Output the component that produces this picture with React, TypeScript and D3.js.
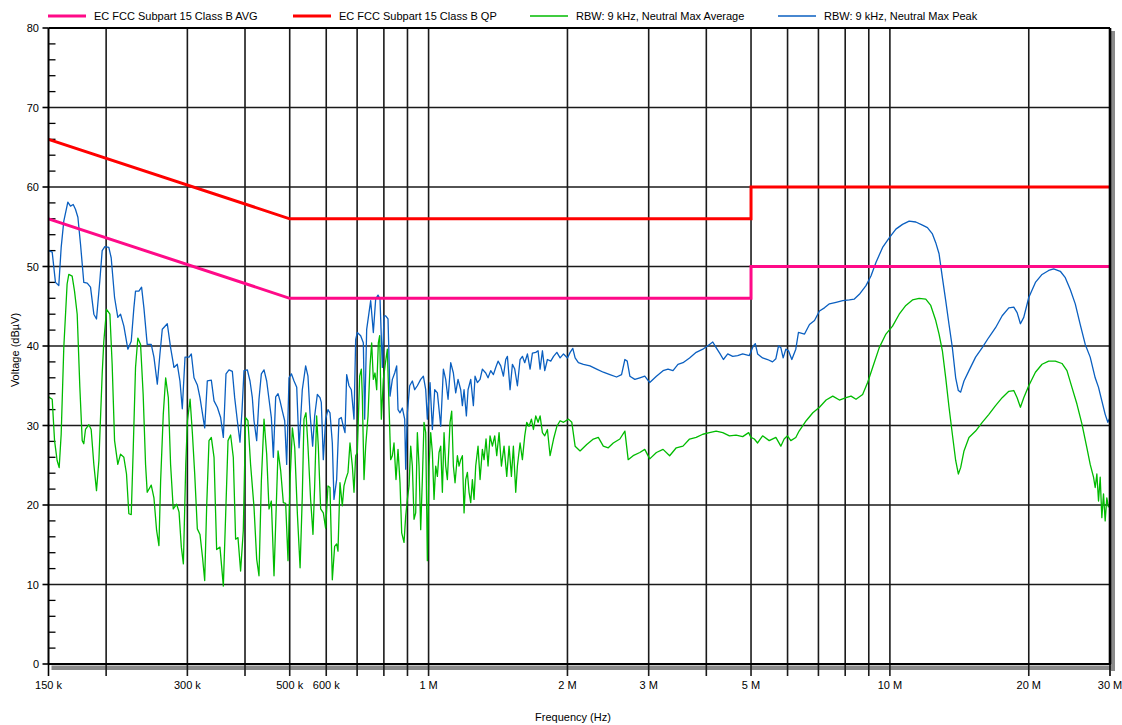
import React from 'react';
import * as d3 from 'd3';

// Limit lines (frequency in kHz, level in dBµV)
const limitFreq = [150, 500, 5000, 5000, 30000];
const qpLimitDb = [66, 56, 56, 60, 60];
const avgLimitDb = [56, 46, 46, 50, 50];

// RBW 9 kHz, Neutral Max Peak: [kHz, dBµV]
const peakTrace: [number, number][] = [
  [150, 52.0], [152.8, 51.8], [155.3, 48.0], [157.9, 47.6], [159.8, 52.4], [161.9, 55.7], [165.2, 58.1], [167.4, 57.6],
  [169.7, 57.8], [171.6, 57.2], [173.7, 56.2], [176.0, 52.8], [178.9, 48.0], [182.0, 47.9], [185.0, 47.4], [188.1, 44.0],
  [190.6, 43.4], [193.8, 48.2], [196.1, 52.0], [198.7, 52.5], [202.7, 52.4], [205.1, 51.1], [208.6, 46.1], [212.0, 43.6],
  [214.9, 44.0], [218.5, 42.5], [222.9, 39.6], [226.7, 40.6], [229.7, 44.8], [231.6, 46.9], [235.5, 46.9], [238.7, 47.4],
  [241.5, 44.8], [245.5, 40.2], [250.5, 40.2], [253.9, 38.6], [258.2, 35.2], [261.6, 39.0], [264.7, 42.1], [271.4, 42.8],
  [275.9, 39.8], [280.6, 37.3], [285.3, 37.7], [289.1, 35.6], [292.5, 32.1], [296.5, 38.6], [302.5, 38.6], [306.0, 39.0],
  [310.1, 36.0], [315.3, 35.1], [319.5, 33.5], [327.1, 29.7], [331.4, 35.6], [338.1, 35.7], [342.7, 33.1], [348.4, 32.3],
  [354.2, 31.0], [359.0, 28.5], [363.8, 36.5], [369.3, 37.0], [375.5, 36.8], [379.9, 33.5], [385.0, 30.6], [390.1, 27.9],
  [394.1, 31.9], [398.0, 36.9], [404.7, 37.0], [410.1, 35.6], [414.9, 33.5], [418.4, 30.6], [424.0, 28.1], [428.9, 33.3],
  [434.0, 36.5], [439.8, 37.0], [445.7, 35.6], [450.9, 33.3], [456.2, 31.0], [460.8, 26.0], [466.2, 33.6], [471.7, 34.0],
  [476.4, 33.1], [482.0, 31.8], [487.6, 30.6], [492.5, 25.1], [498.3, 36.0], [504.2, 36.5], [510.9, 35.6], [517.8, 34.8],
  [523.9, 27.2], [532.4, 34.5], [541.4, 37.5], [547.7, 36.2], [553.2, 31.6], [560.6, 27.4], [566.3, 31.2], [573.9, 33.9],
  [581.6, 33.5], [585.4, 32.9], [591.3, 25.7], [598.2, 30.8], [605.2, 32.0], [611.3, 31.6], [618.5, 27.8], [623.6, 20.7],
  [632.0, 23.2], [639.4, 30.8], [646.9, 31.0], [653.4, 29.9], [658.9, 29.1], [664.4, 36.4], [672.2, 35.0], [680.1, 34.5],
  [689.2, 30.8], [694.9, 40.8], [700.7, 41.7], [712.5, 41.3], [722.0, 40.4], [726.9, 30.8], [734.2, 42.1], [742.8, 44.2],
  [749.0, 45.7], [759.0, 41.7], [767.9, 45.9], [776.9, 46.4], [784.7, 45.9], [793.9, 37.3], [800.6, 43.8], [807.2, 43.8],
  [816.7, 43.4], [824.9, 33.7], [834.6, 35.8], [844.4, 36.6], [852.8, 37.5], [858.5, 32.0], [867.1, 31.6], [877.3, 32.2],
  [887.6, 30.8], [892.0, 24.5], [899.5, 31.6], [910.0, 35.0], [922.2, 35.6], [933.0, 34.5], [945.5, 35.0], [961.4, 35.8],
  [974.3, 36.2], [985.8, 34.5], [993.9, 30.8], [1007.3, 35.4], [1019.1, 29.5], [1031.1, 34.5], [1044.9, 34.1], [1062.5, 29.9],
  [1076.7, 37.1], [1089.2, 35.8], [1102.1, 33.3], [1116.8, 37.9], [1131.7, 36.6], [1145.0, 34.1], [1158.4, 35.8], [1173.9, 34.5],
  [1183.8, 32.5], [1193.7, 34.5], [1207.6, 31.2], [1217.8, 34.5], [1234.1, 35.8], [1250.6, 32.5], [1261.0, 36.2], [1275.9, 35.4],
  [1293.0, 35.8], [1308.0, 37.1], [1330.1, 36.6], [1345.6, 36.0], [1363.7, 36.9], [1382.0, 36.4], [1398.2, 37.3], [1414.6, 38.1],
  [1433.6, 37.5], [1452.7, 36.2], [1469.8, 38.3], [1482.1, 38.7], [1501.9, 34.5], [1519.6, 37.7], [1537.3, 37.1], [1557.9, 35.0],
  [1578.8, 38.3], [1597.3, 38.7], [1616.0, 37.9], [1637.8, 39.0], [1659.7, 37.1], [1679.1, 39.1], [1707.4, 39.2], [1727.3, 39.4],
  [1744.7, 37.1], [1765.2, 39.4], [1785.8, 36.9], [1809.7, 38.3], [1840.1, 38.1], [1866, 38.7], [1897, 39.2], [1928, 38.5],
  [1961, 39.0], [2000, 38.5], [2027, 39.2], [2054, 39.7], [2078, 38.5], [2112, 37.9], [2166, 37.7], [2238, 37.5],
  [2314, 37.1], [2392, 36.7], [2472, 36.4], [2556, 36.1], [2620, 36.4], [2664, 38.3], [2695, 38.1], [2731, 36.2],
  [2800, 35.8], [2870, 36.0], [2942, 36.2], [3016, 35.4], [3118, 36.2], [3223, 36.9], [3304, 37.1], [3387, 36.9],
  [3472, 37.7], [3560, 37.9], [3679, 38.5], [3803, 39.2], [3931, 39.6], [4064, 40.2], [4131, 40.5], [4201, 39.8],
  [4285, 39.0], [4356, 38.3], [4451, 39.0], [4563, 38.7], [4678, 38.8], [4796, 39.0], [4957, 38.8], [5057, 40.0],
  [5108, 40.3], [5167, 39.0], [5297, 38.5], [5430, 38.3], [5567, 38.0], [5660, 38.4], [5735, 40.0], [5802, 39.8],
  [5870, 38.5], [5949, 39.6], [6028, 39.4], [6129, 38.3], [6252, 39.6], [6335, 41.7], [6531, 41.5], [6694, 42.7],
  [6864, 43.2], [7036, 44.4], [7213, 44.8], [7395, 45.3], [7644, 45.5], [7902, 45.7], [8169, 45.8], [8374, 45.9],
  [8586, 46.5], [8875, 47.6], [9098, 48.8], [9327, 50.5], [9642, 52.4], [9967, 53.6], [10303, 54.7], [10650, 55.3],
  [11010, 55.7], [11380, 55.6], [11765, 55.2], [12061, 54.9], [12364, 54.1], [12571, 53.0], [12781, 51.6], [12995, 48.6],
  [13213, 45.7], [13433, 42.7], [13658, 39.8], [13886, 36.0], [14072, 34.4], [14236, 34.2], [14475, 35.6], [14838, 36.9],
  [15338, 38.6], [15856, 39.8], [16391, 41.1], [16944, 42.3], [17515, 43.8], [18105, 44.8], [18560, 44.9], [18871, 44.2],
  [19185, 42.8], [19506, 43.6], [20000, 46.1], [20675, 48.0], [21371, 49.0], [22092, 49.5], [22647, 49.7], [23410, 49.4],
  [24001, 48.6], [24603, 47.1], [25224, 45.3], [25860, 42.7], [26512, 40.2], [27177, 38.6], [27863, 36.0], [28330, 34.8],
  [28804, 33.1], [29286, 31.4], [29675, 30.4], [30000, 31.0],
];

// RBW 9 kHz, Neutral Max Average: [kHz, dBµV]
const averageTrace: [number, number][] = [
  [150, 33.6], [152.8, 33.3], [154.6, 28.1], [156.6, 25.6], [158.2, 24.7], [159.8, 28.9], [161.9, 39.8], [164.6, 47.8],
  [166.0, 49.0], [168.8, 48.8], [170.8, 46.9], [173.1, 44.0], [175.4, 34.8], [177.5, 28.1], [178.9, 27.7], [180.4, 29.5],
  [183.5, 30.1], [185.6, 29.5], [188.1, 25.1], [190.6, 21.8], [192.9, 25.6], [196.1, 36.5], [197.7, 40.6], [200.4, 44.6],
  [203.8, 44.0], [206.1, 37.7], [208.6, 28.1], [212.0, 25.1], [214.9, 26.4], [218.5, 26.0], [221.4, 23.9], [224.0, 18.9],
  [226.7, 18.8], [229.0, 27.2], [231.6, 37.3], [234.3, 41.0], [237.5, 40.2], [240.6, 33.9], [243.5, 25.1], [245.5, 21.6],
  [250.5, 22.5], [253.9, 20.9], [257.3, 16.8], [260.3, 14.9], [262.5, 23.0], [266.0, 31.4], [269.2, 36.0], [272.8, 33.5],
  [275.9, 25.1], [279.6, 19.5], [284.4, 20.1], [287.8, 19.1], [291.1, 14.7], [294.1, 12.6], [297.6, 25.1], [300.1, 30.6],
  [304.1, 33.3], [307.7, 28.9], [311.2, 23.9], [315.3, 17.0], [319.5, 16.3], [323.6, 13.4], [327.1, 10.5], [330.3, 19.7],
  [334.2, 28.1], [338.1, 28.5], [342.7, 26.0], [347.2, 14.4], [353.0, 14.7], [359.0, 9.8], [363.2, 18.8], [367.5, 28.1],
  [372.3, 28.8], [377.3, 26.0], [381.7, 15.7], [386.2, 15.9], [391.3, 11.7], [396.6, 16.8], [401.2, 31.0], [405.9, 30.6],
  [411.3, 25.1], [418.4, 19.7], [424.0, 13.2], [428.9, 11.1], [434.0, 23.0], [439.8, 30.8], [445.7, 26.4], [450.9, 19.5],
  [456.2, 20.5], [462.3, 11.1], [466.9, 18.8], [471.7, 26.8], [478.0, 24.3], [484.3, 20.3], [490.0, 20.2], [495.8, 13.0],
  [500.8, 23.0], [506.7, 29.7], [512.7, 27.2], [519.6, 18.8], [526.6, 12.1], [532.4, 21.1], [536.9, 30.8], [542.3, 31.6],
  [547.7, 27.4], [555.0, 20.7], [561.6, 16.3], [566.3, 22.4], [571.9, 31.2], [576.7, 27.4], [583.5, 19.5], [591.3, 19.0],
  [598.2, 17.1], [605.2, 22.4], [611.3, 22.2], [618.5, 10.6], [625.7, 14.8], [632.0, 15.1], [636.2, 14.2], [642.6, 22.8],
  [650.1, 19.9], [655.6, 22.4], [661.1, 23.2], [668.8, 24.1], [675.5, 27.8], [683.5, 24.9], [689.2, 21.6], [694.9, 26.2],
  [700.7, 26.6], [708.9, 36.2], [714.9, 37.1], [718.4, 33.7], [724.5, 23.2], [730.5, 27.4], [739.1, 31.2], [746.5, 37.5],
  [752.7, 40.4], [759.0, 35.8], [765.3, 36.6], [771.8, 34.5], [778.2, 40.4], [783.4, 41.3], [790.0, 30.8], [797.9, 35.8],
  [804.6, 37.5], [814.0, 39.6], [820.8, 32.5], [827.6, 25.7], [834.6, 26.2], [841.5, 27.8], [849.9, 23.2], [858.5, 27.0],
  [867.1, 22.8], [874.4, 16.5], [884.6, 15.3], [892.0, 18.6], [899.5, 20.7], [907.0, 22.4], [914.6, 27.4], [922.2, 24.9],
  [929.9, 18.2], [937.7, 19.0], [945.5, 29.1], [953.5, 24.9], [961.4, 16.9], [969.4, 23.2], [977.5, 30.4], [985.8, 29.1],
  [993.9, 13.0], [1002.3, 24.9], [1010.6, 29.1], [1019.1, 26.6], [1027.6, 20.7], [1036.2, 24.9], [1044.9, 23.6], [1053.6, 26.6],
  [1062.5, 27.4], [1071.3, 21.6], [1080.2, 29.1], [1089.2, 24.9], [1098.4, 23.2], [1113.1, 30.4], [1122.4, 31.8], [1131.7, 24.9],
  [1141.2, 22.8], [1154.6, 26.2], [1164.2, 24.9], [1173.9, 25.7], [1183.8, 26.2], [1193.7, 19.0], [1203.6, 23.2], [1213.7, 24.1],
  [1223.9, 21.6], [1234.1, 20.3], [1244.4, 23.2], [1254.7, 20.7], [1265.2, 24.9], [1280.1, 27.4], [1293.0, 23.2], [1308.0, 27.0],
  [1319.1, 25.7], [1332.2, 28.3], [1345.6, 24.9], [1359.1, 28.7], [1375.1, 27.4], [1391.2, 28.7], [1405.2, 26.2], [1421.7, 29.1],
  [1438.3, 24.9], [1457.5, 27.4], [1477.2, 23.6], [1494.4, 27.4], [1512.0, 23.6], [1527.0, 27.4], [1545.0, 21.6], [1557.9, 24.9],
  [1578.8, 27.8], [1597.3, 25.7], [1616.0, 28.7], [1632.2, 30.4], [1651.5, 29.9], [1670.8, 30.8], [1687.6, 29.5], [1707.4, 31.2],
  [1727.3, 30.4], [1744.7, 31.2], [1765.2, 29.1], [1785.8, 28.7], [1809.7, 29.5], [1833.9, 26.2], [1866, 28.3], [1897, 29.9],
  [1928, 30.6], [1961, 30.4], [2010, 30.8], [2044, 30.4], [2078, 27.4], [2130, 26.8], [2202, 27.6], [2276, 28.3],
  [2333, 28.5], [2392, 27.4], [2452, 27.2], [2514, 27.8], [2598, 28.3], [2664, 29.3], [2708, 25.7], [2776, 26.2],
  [2870, 26.6], [2942, 27.0], [3016, 25.8], [3118, 26.6], [3223, 27.0], [3331, 26.2], [3443, 27.2], [3560, 27.4],
  [3679, 28.3], [3803, 28.5], [3931, 28.9], [4064, 29.1], [4201, 29.3], [4342, 29.1], [4489, 28.7], [4640, 28.8],
  [4796, 28.6], [4941, 29.1], [4999, 28.5], [5082, 28.3], [5167, 27.8], [5297, 28.7], [5475, 28.1], [5660, 28.5],
  [5802, 27.4], [5899, 28.3], [5998, 28.7], [6098, 28.1], [6252, 28.5], [6356, 29.3], [6585, 30.6], [6807, 31.6],
  [7036, 32.3], [7273, 33.2], [7519, 33.7], [7773, 33.2], [8034, 33.5], [8237, 33.7], [8444, 33.3], [8728, 33.9],
  [8948, 35.4], [9174, 37.3], [9483, 39.8], [9803, 41.5], [10134, 42.5], [10475, 44.0], [10829, 45.1], [11193, 45.8],
  [11571, 46.0], [11961, 45.9], [12262, 45.1], [12571, 43.2], [12781, 41.5], [12995, 39.4], [13213, 36.0], [13433, 32.3],
  [13658, 28.9], [13886, 25.6], [14072, 23.9], [14236, 24.7], [14475, 26.8], [14838, 28.5], [15338, 29.3], [15856, 30.4],
  [16391, 31.4], [16944, 32.5], [17515, 33.5], [18105, 34.3], [18560, 34.4], [18871, 33.5], [19185, 32.3], [19506, 33.5],
  [20000, 35.0], [20675, 36.7], [21371, 37.7], [22092, 38.1], [22836, 38.1], [23606, 37.8], [24201, 36.9], [24809, 34.8],
  [25434, 32.7], [26075, 30.2], [26733, 27.2], [27177, 25.1], [27632, 23.5], [27863, 22.2], [28095, 23.9], [28330, 20.5],
  [28566, 23.5], [28804, 18.4], [29044, 21.4], [29286, 18.0], [29527, 20.9], [29773, 19.7],
];

// Axis ticks
const gridFreqs = [200, 300, 400, 500, 600, 700, 800, 900, 1000, 2000, 3000, 4000, 5000, 6000, 7000, 8000, 9000, 10000, 20000];
const xTickFreqs = [150, 300, 500, 600, 1000, 2000, 3000, 5000, 10000, 20000, 30000];
const xTickLabels = ['150 k', '300 k', '500 k', '600 k', '1 M', '2 M', '3 M', '5 M', '10 M', '20 M', '30 M'];
const yTicks = [0, 10, 20, 30, 40, 50, 60, 70, 80];

const legendItems = [
  { label: 'EC FCC Subpart 15 Class B AVG', color: '#ff0a88', width: 3, x: 48 },
  { label: 'EC FCC Subpart 15 Class B QP', color: '#ff0000', width: 3, x: 293 },
  { label: 'RBW: 9 kHz, Neutral Max Average', color: '#00bb00', width: 1.5, x: 530 },
  { label: 'RBW: 9 kHz, Neutral Max Peak', color: '#0a5fc0', width: 1.5, x: 778 },
];

export default function App() {
  const width = 1122;
  const height = 725;
  const left = 48.5;
  const right = 1110;
  const top = 28;
  const bottom = 664;
  const font = '"Liberation Sans", Arial, sans-serif';

  const x = d3.scaleLog().domain([150, 30000]).range([left, right]);
  const y = d3.scaleLinear().domain([0, 80]).range([bottom, top]);

  const trace = d3.line<[number, number]>()
    .x(d => x(d[0]))
    .y(d => y(d[1]));

  const limitLine = (levels: number[]) =>
    trace(limitFreq.map((f, i) => [f, levels[i]] as [number, number])) || '';

  const minorY = d3.range(0, 81, 2).filter(v => v % 10 !== 0);

  return (
    <div style={{ position: 'absolute', left: 0, top: 0 }}>
      <svg width={width} height={height} style={{ display: 'block', background: '#fff' }} fontFamily={font}>
        <defs>
          <clipPath id="plot-clip">
            <rect x={left} y={top} width={right - left} height={bottom - top} />
          </clipPath>
        </defs>

        {/* legend */}
        {legendItems.map(item => (
          <g key={item.label}>
            <line x1={item.x} x2={item.x + 38} y1={16} y2={16} stroke={item.color} strokeWidth={item.width} />
            <text x={item.x + 46} y={20} fontSize={11} fill="#000">{item.label}</text>
          </g>
        ))}

        {/* shadow of the frame */}
        <rect x={right + 1} y={top + 3} width={4} height={bottom - top + 4} fill="#8a8a8a" />
        <rect x={left + 3} y={bottom + 1.5} width={right - left + 2} height={4.5} fill="#8a8a8a" />

        {/* horizontal grid */}
        {yTicks.slice(1, -1).map(v => (
          <line key={'h' + v} x1={left} x2={right} y1={y(v)} y2={y(v)} stroke="#1a1a1a" strokeWidth={1.6} />
        ))}

        {/* vertical grid, extending below the axis */}
        {gridFreqs.map(f => (
          <line key={'v' + f} x1={x(f)} x2={x(f)} y1={top} y2={bottom + 12} stroke="#1a1a1a" strokeWidth={1.6} />
        ))}
        <line x1={left} x2={left} y1={bottom} y2={bottom + 12} stroke="#000" strokeWidth={1.6} />
        <line x1={right} x2={right} y1={bottom} y2={bottom + 12} stroke="#000" strokeWidth={1.6} />

        {/* y ticks */}
        {yTicks.map(v => (
          <g key={'yt' + v}>
            <line x1={left - 6} x2={left} y1={y(v)} y2={y(v)} stroke="#000" strokeWidth={1.6} />
            <text x={39} y={y(v) + 4} fontSize={11} textAnchor="end" fill="#000">{v}</text>
          </g>
        ))}
        {minorY.map(v => (
          <line key={'ym' + v} x1={left} x2={left + 7} y1={y(v)} y2={y(v)} stroke="#000" strokeWidth={1.3} />
        ))}

        {/* x tick labels */}
        {xTickFreqs.map((f, i) => (
          <text key={'xt' + f} x={x(f)} y={689} fontSize={11} textAnchor="middle" fill="#000">{xTickLabels[i]}</text>
        ))}

        {/* traces */}
        <g clipPath="url(#plot-clip)">
          <path d={trace(averageTrace) || ''} fill="none" stroke="#00bb00" strokeWidth={1.3} strokeLinejoin="round" />
          <path d={trace(peakTrace) || ''} fill="none" stroke="#0a5fc0" strokeWidth={1.3} strokeLinejoin="round" />
          <path d={limitLine(avgLimitDb)} fill="none" stroke="#ff0a88" strokeWidth={3} />
          <path d={limitLine(qpLimitDb)} fill="none" stroke="#ff0000" strokeWidth={3} />
        </g>

        {/* frame */}
        <line x1={left} x2={right} y1={top} y2={top} stroke="#000" strokeWidth={2} />
        <line x1={left} x2={right + 1} y1={bottom} y2={bottom} stroke="#000" strokeWidth={2.2} />
        <line x1={left} x2={left} y1={top} y2={bottom} stroke="#000" strokeWidth={2} />
        <line x1={right} x2={right} y1={top} y2={bottom} stroke="#000" strokeWidth={2.6} />

        {/* axis titles */}
        <text x={573} y={721} fontSize={11} textAnchor="middle" fill="#000">Frequency (Hz)</text>
        <text transform={`translate(19, 350) rotate(-90)`} fontSize={11} textAnchor="middle" fill="#000">Voltage (dBµV)</text>
      </svg>
    </div>
  );
}
